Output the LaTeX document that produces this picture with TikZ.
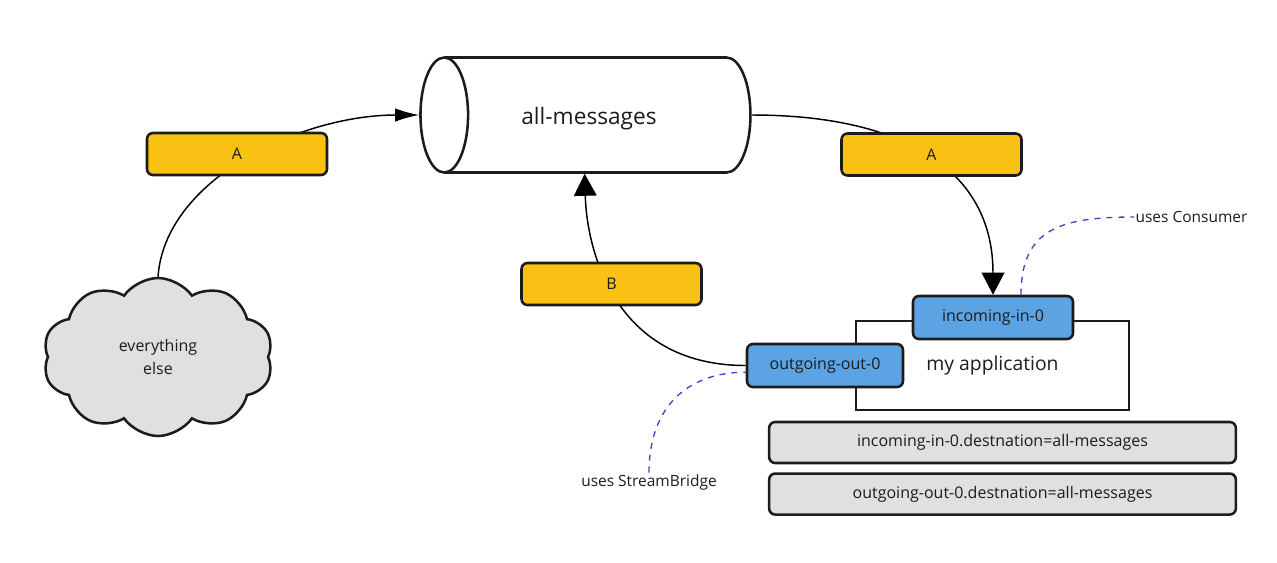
\documentclass[tikz,border=0pt]{standalone}
\usepackage{fontspec}
\setmainfont{Open Sans}
\usetikzlibrary{arrows.meta,positioning,shapes.geometric,shapes.symbols}
\definecolor{ink}{HTML}{1C1C1C}
\definecolor{amber}{HTML}{F8C114}
\definecolor{portblue}{HTML}{5BA3E3}
\definecolor{boxgray}{HTML}{E0E0E0}
\definecolor{notes}{HTML}{3F48B8}

\begin{document}
\begin{tikzpicture}[x=0.75pt,y=-0.75pt]
\tikzstyle{lbl} = [rectangle, rounded corners=4.5pt, minimum width=135pt, minimum height=31.5pt, fill=amber, draw=ink, line width=1.9pt, text=ink, font=\fontsize{12}{14}\selectfont]
\tikzstyle{port} = [rectangle, rounded corners=4.5pt, minimum height=32.25pt, fill=portblue, draw=ink, line width=1.9pt, text=ink, font=\fontsize{12}{14}\selectfont]
\tikzstyle{cfg} = [rectangle, rounded corners=4.5pt, minimum width=350pt, minimum height=30.75pt, fill=boxgray, draw=ink, line width=1.9pt, text=ink, font=\fontsize{12}{14}\selectfont]
\tikzstyle{txt} = [inner sep=1pt, text=ink, font=\fontsize{11.6}{14}\selectfont]
\tikzstyle{arr} = [-{Triangle[length=16.5pt,width=17pt]}, line width=1.1pt]
\tikzstyle{arrl} = [-{Latex[length=18pt,width=10pt]}, line width=1.1pt]
\tikzstyle{note} = [dash pattern=on 4.5pt off 4.5pt, line width=1pt, draw=notes]
\useasboundingbox (0,0) rectangle (1277,562);

% topic and sources
\node (topic) [cylinder, shape border rotate=180, aspect=2.1, draw=ink, line width=1.9pt, minimum width=86.25pt, minimum height=247.5pt, inner sep=0pt, text=ink, font=\fontsize{17}{20}\selectfont] at (598,115) {\raisebox{-3pt}[\height][\depth]{\hspace*{-13.5pt}all-messages}};
\node (cloud) [cloud, cloud puffs=10, cloud puff arc=110, cloud ignores aspect, draw=ink, fill=boxgray, line width=1.9pt, minimum width=172.5pt, minimum height=118.5pt, align=center, text=ink, font=\fontsize{12}{17}\selectfont] at (158,357) {everything\\else};

% application
\node (app) [rectangle, draw=ink, line width=1.9pt, minimum width=204.75pt, minimum height=66.75pt, text=ink, font=\fontsize{14.5}{17}\selectfont] at (992.5,365.5) {my application};
\node (inport) [port, minimum width=120pt] at (993,317.5) {incoming-in-0};
\node (outport) [port, minimum width=117pt] at (825,365.5) {outgoing-out-0};
\node (cfgIn) [cfg] at (1002.5,442.5) {incoming-in-0.destnation=all-messages};
\node (cfgOut) [cfg, below=6pt of cfgIn] {outgoing-out-0.destnation=all-messages};

% notes
\node (useC) [txt, anchor=west] at (1134,217) {uses Consumer};
\node (useSB) [txt] at (649,482) {uses StreamBridge};
\draw[note] ([xshift=21pt]inport.north) .. controls +(0,-66) and +(-73,0) .. (useC.west);
\draw[note] (useSB.north) .. controls +(0,-67) and +(-57,0) .. ([yshift=-5pt]outport.west);

% connectors
\draw[arrl] (cloud.north) .. controls +(7,-98) and +(-118,0) .. (topic.west);
\draw[arr] (topic.east) .. controls +(150,0) and +(0,-126) .. (inport.north);
\draw[arr] (outport.west) .. controls +(-132,0) and +(2,75) .. ([xshift=-10pt]topic.south);

% bindings
\node (a1) [lbl] at (237,154) {A};
\node (a2) [lbl] at (931.5,154.5) {A};
\node (b) [lbl] at (611.5,284) {B};

\end{tikzpicture}
\end{document}
